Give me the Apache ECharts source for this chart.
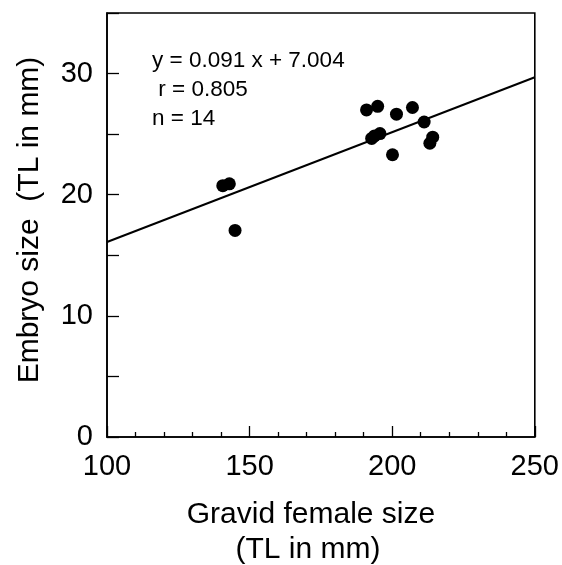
<!DOCTYPE html>
<html>
<head>
<meta charset="utf-8">
<script src="https://cdn.jsdelivr.net/npm/echarts@6/dist/echarts.min.js"></script>
<style>
  html, body { margin: 0; padding: 0; background: #fff; }
  #main { width: 562px; height: 565px; }
</style>
</head>
<body>
<div id="main"></div>
<script>
// gravid female size (TL in mm) vs embryo size (TL in mm)
var femaleSize = [140.6, 142.9, 144.9, 191.0, 194.9, 192.8, 195.7, 193.8, 201.5, 200.1, 207.1, 211.2, 214.2, 213.2];
var embryoSize = [20.75, 20.9, 17.05, 27.0, 27.3, 24.65, 25.05, 24.85, 26.65, 23.3, 27.2, 26.0, 24.75, 24.25];

// regression line ends
var fitX = [100, 250];
var fitY = [16.1, 29.7];

var statsText = ['y = 0.091 x + 7.004', ' r = 0.805', 'n = 14'];

var fontFamily = '"Liberation Sans", Arial, Helvetica, sans-serif';

var points = femaleSize.map(function (x, i) { return [x, embryoSize[i]]; });
var fitLine = fitX.map(function (x, i) { return [x, fitY[i]]; });

var mychart = echarts.init(document.getElementById('main'));

var option = {
    animation: false,
    backgroundColor: '#fff',
    grid: {
        left: 107,
        right: 27,
        top: 13,
        bottom: 128,
        show: true,
        borderColor: '#000',
        borderWidth: 1.6
    },
    xAxis: {
        type: 'value',
        min: 100,
        max: 250,
        interval: 50,
        splitLine: { show: false },
        axisLine: { lineStyle: { color: '#000', width: 1.6 } },
        axisTick: { inside: true, length: 11, lineStyle: { color: '#000', width: 1.3 } },
        minorTick: { show: true, splitNumber: 5, length: 5, lineStyle: { color: '#000', width: 1.3 } },
        axisLabel: {
            margin: 15,
            color: '#000',
            fontSize: 29,
            fontFamily: fontFamily
        }
    },
    yAxis: {
        type: 'value',
        min: 0,
        max: 35,
        interval: 5,
        splitLine: { show: false },
        axisLine: { lineStyle: { color: '#000', width: 1.6 } },
        axisTick: { inside: true, length: 12, lineStyle: { color: '#000', width: 1.3 } },
        axisLabel: {
            margin: 14,
            color: '#000',
            fontSize: 29,
            fontFamily: fontFamily,
            formatter: function (v) {
                return v % 10 === 0 && v < 35 ? String(v) : '';
            }
        }
    },
    graphic: [
        {
            type: 'text',
            x: 30,
            y: 220,
            rotation: Math.PI / 2,
            style: {
                text: 'Embryo size  (TL in mm)',
                fill: '#000',
                font: '30px ' + fontFamily,
                align: 'center',
                verticalAlign: 'middle'
            }
        },
        {
            type: 'text',
            x: 311,
            y: 515,
            style: {
                text: 'Gravid female size',
                fill: '#000',
                font: '30px ' + fontFamily,
                align: 'center',
                verticalAlign: 'middle'
            }
        },
        {
            type: 'text',
            x: 308,
            y: 550,
            style: {
                text: '(TL in mm)',
                fill: '#000',
                font: '30px ' + fontFamily,
                align: 'center',
                verticalAlign: 'middle'
            }
        },
        {
            type: 'text',
            x: 152,
            y: 90,
            style: {
                text: statsText.join('\n'),
                fill: '#000',
                font: '22.5px ' + fontFamily,
                lineHeight: 29,
                align: 'left',
                verticalAlign: 'middle'
            }
        }
    ],
    series: [
        {
            type: 'line',
            data: fitLine,
            symbol: 'none',
            silent: true,
            lineStyle: { color: '#000', width: 2 },
            z: 2
        },
        {
            type: 'scatter',
            data: points,
            symbol: 'circle',
            symbolSize: 13,
            itemStyle: { color: '#000', opacity: 1 },
            z: 3
        }
    ]
};

mychart.setOption(option);
</script>
</body>
</html>
